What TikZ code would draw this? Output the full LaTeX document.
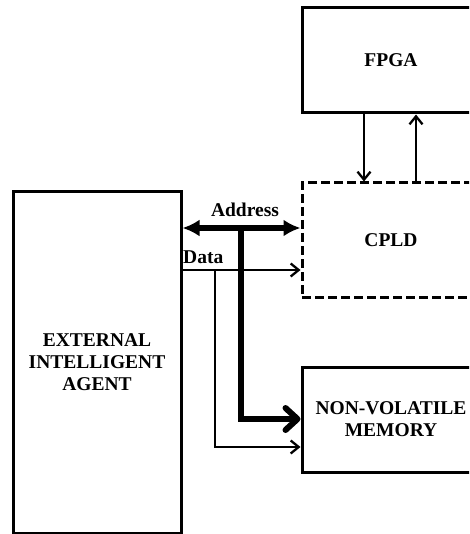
\documentclass[tikz,border=0pt]{standalone}
\usepackage{fontspec}
\setmainfont{Liberation Serif}
\usetikzlibrary{arrows.meta}
\tikzset{
  blk/.style={draw, line width=3pt, minimum width=178pt, inner sep=0pt, align=center, font=\fontsize{19.5}{22}\selectfont\bfseries},
  dashblk/.style={blk, dash pattern=on 9pt off 4pt},
  thin/.style={line width=2.3pt, -{Straight Barb[length=8pt,width=13pt]}},
  addr/.style={line width=6pt, {Latex[length=17pt,width=17pt]}-{Latex[length=17pt,width=17pt]}},
  bus/.style={line width=6pt, -{Straight Barb[length=12pt,width=22pt,round]}},
  lbl/.style={font=\fontsize{19.5}{22}\selectfont\bfseries, inner sep=0pt}
}
\begin{document}
\begin{tikzpicture}[x=1pt,y=-1pt]
\clip (0,0) rectangle (469,534);
\node[blk, minimum height=105pt] (fpga) at (391,60.5) {FPGA};
\node[dashblk, minimum height=114pt] (cpld) at (391,240) {CPLD};
\node[blk, minimum height=105pt] (nvm) at (391,419.5) {NON-VOLATILE\\MEMORY};
\node[blk, minimum width=168pt, minimum height=341pt] (ext) at (97,362.5) {EXTERNAL\\INTELLIGENT\\AGENT};
% FPGA <-> CPLD
\draw[thin] (fpga.south -| 364,0) -- (cpld.north -| 364,0);
\draw[thin] (cpld.north -| 416,0) -- (fpga.south -| 416,0);
% address
\draw[addr] (ext.east |- 0,228) -- (cpld.west |- 0,228);
\coordinate (abus) at (241,228);
\draw[bus] (abus) |- (nvm.west |- 0,419);
% data
\draw[thin] (ext.east |- 0,270) -- (cpld.west |- 0,270);
\coordinate (dbus) at (215,270);
\draw[thin] (dbus) |- (nvm.west |- 0,447);
% labels
\node[lbl, anchor=base] (alab) at (245,217) {Address};
\node[lbl, anchor=base west] (dlab) at (183,263) {Data};
\end{tikzpicture}
\end{document}
